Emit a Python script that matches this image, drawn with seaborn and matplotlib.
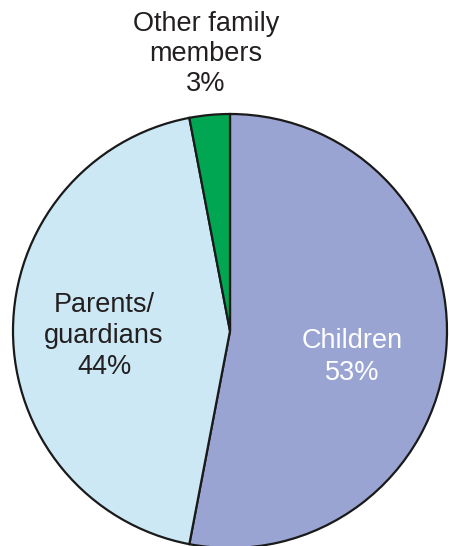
import numpy as np
import pandas as pd
import matplotlib
matplotlib.use('Agg')
import matplotlib.pyplot as plt
import seaborn as sns

# pie data (clockwise from top)
labels = ['Children', 'Parents/\nguardians', 'Other family\nmembers']
shares = [53, 44, 3]
colors = ['#9AA4D3', '#CCE8F4', '#00A651']
text_colors = ['white', '#231F20', '#231F20']

sns.set_theme(style='white')
plt.rcParams['font.family'] = ['Liberation Sans', 'DejaVu Sans']

fig = plt.figure(figsize=(4.49, 5.46), dpi=100)
ax = fig.add_axes([0, 0, 1, 1])

wedges, _ = ax.pie(shares, colors=colors, startangle=90, counterclock=False,
                   center=(230, 215), radius=217, frame=True,
                   wedgeprops=dict(edgecolor='#1a1a1a', linewidth=1.6))

# label positions in pixel coords (x, y from bottom)
label_pos = [(352, 189), (104, 210), (206, 492)]
spacing = [1.32, 1.25, 1.2]
for lab, val, (x, y), c, ls in zip(labels, shares, label_pos, text_colors, spacing):
    ax.text(x, y, f'{lab}\n{val}%', ha='center', va='center', color=c,
            fontsize=19.5, linespacing=ls)

ax.set_xlim(0, 449)
ax.set_ylim(0, 546)
ax.set_aspect('equal')
ax.axis('off')

fig.savefig('out.png', dpi=100)
